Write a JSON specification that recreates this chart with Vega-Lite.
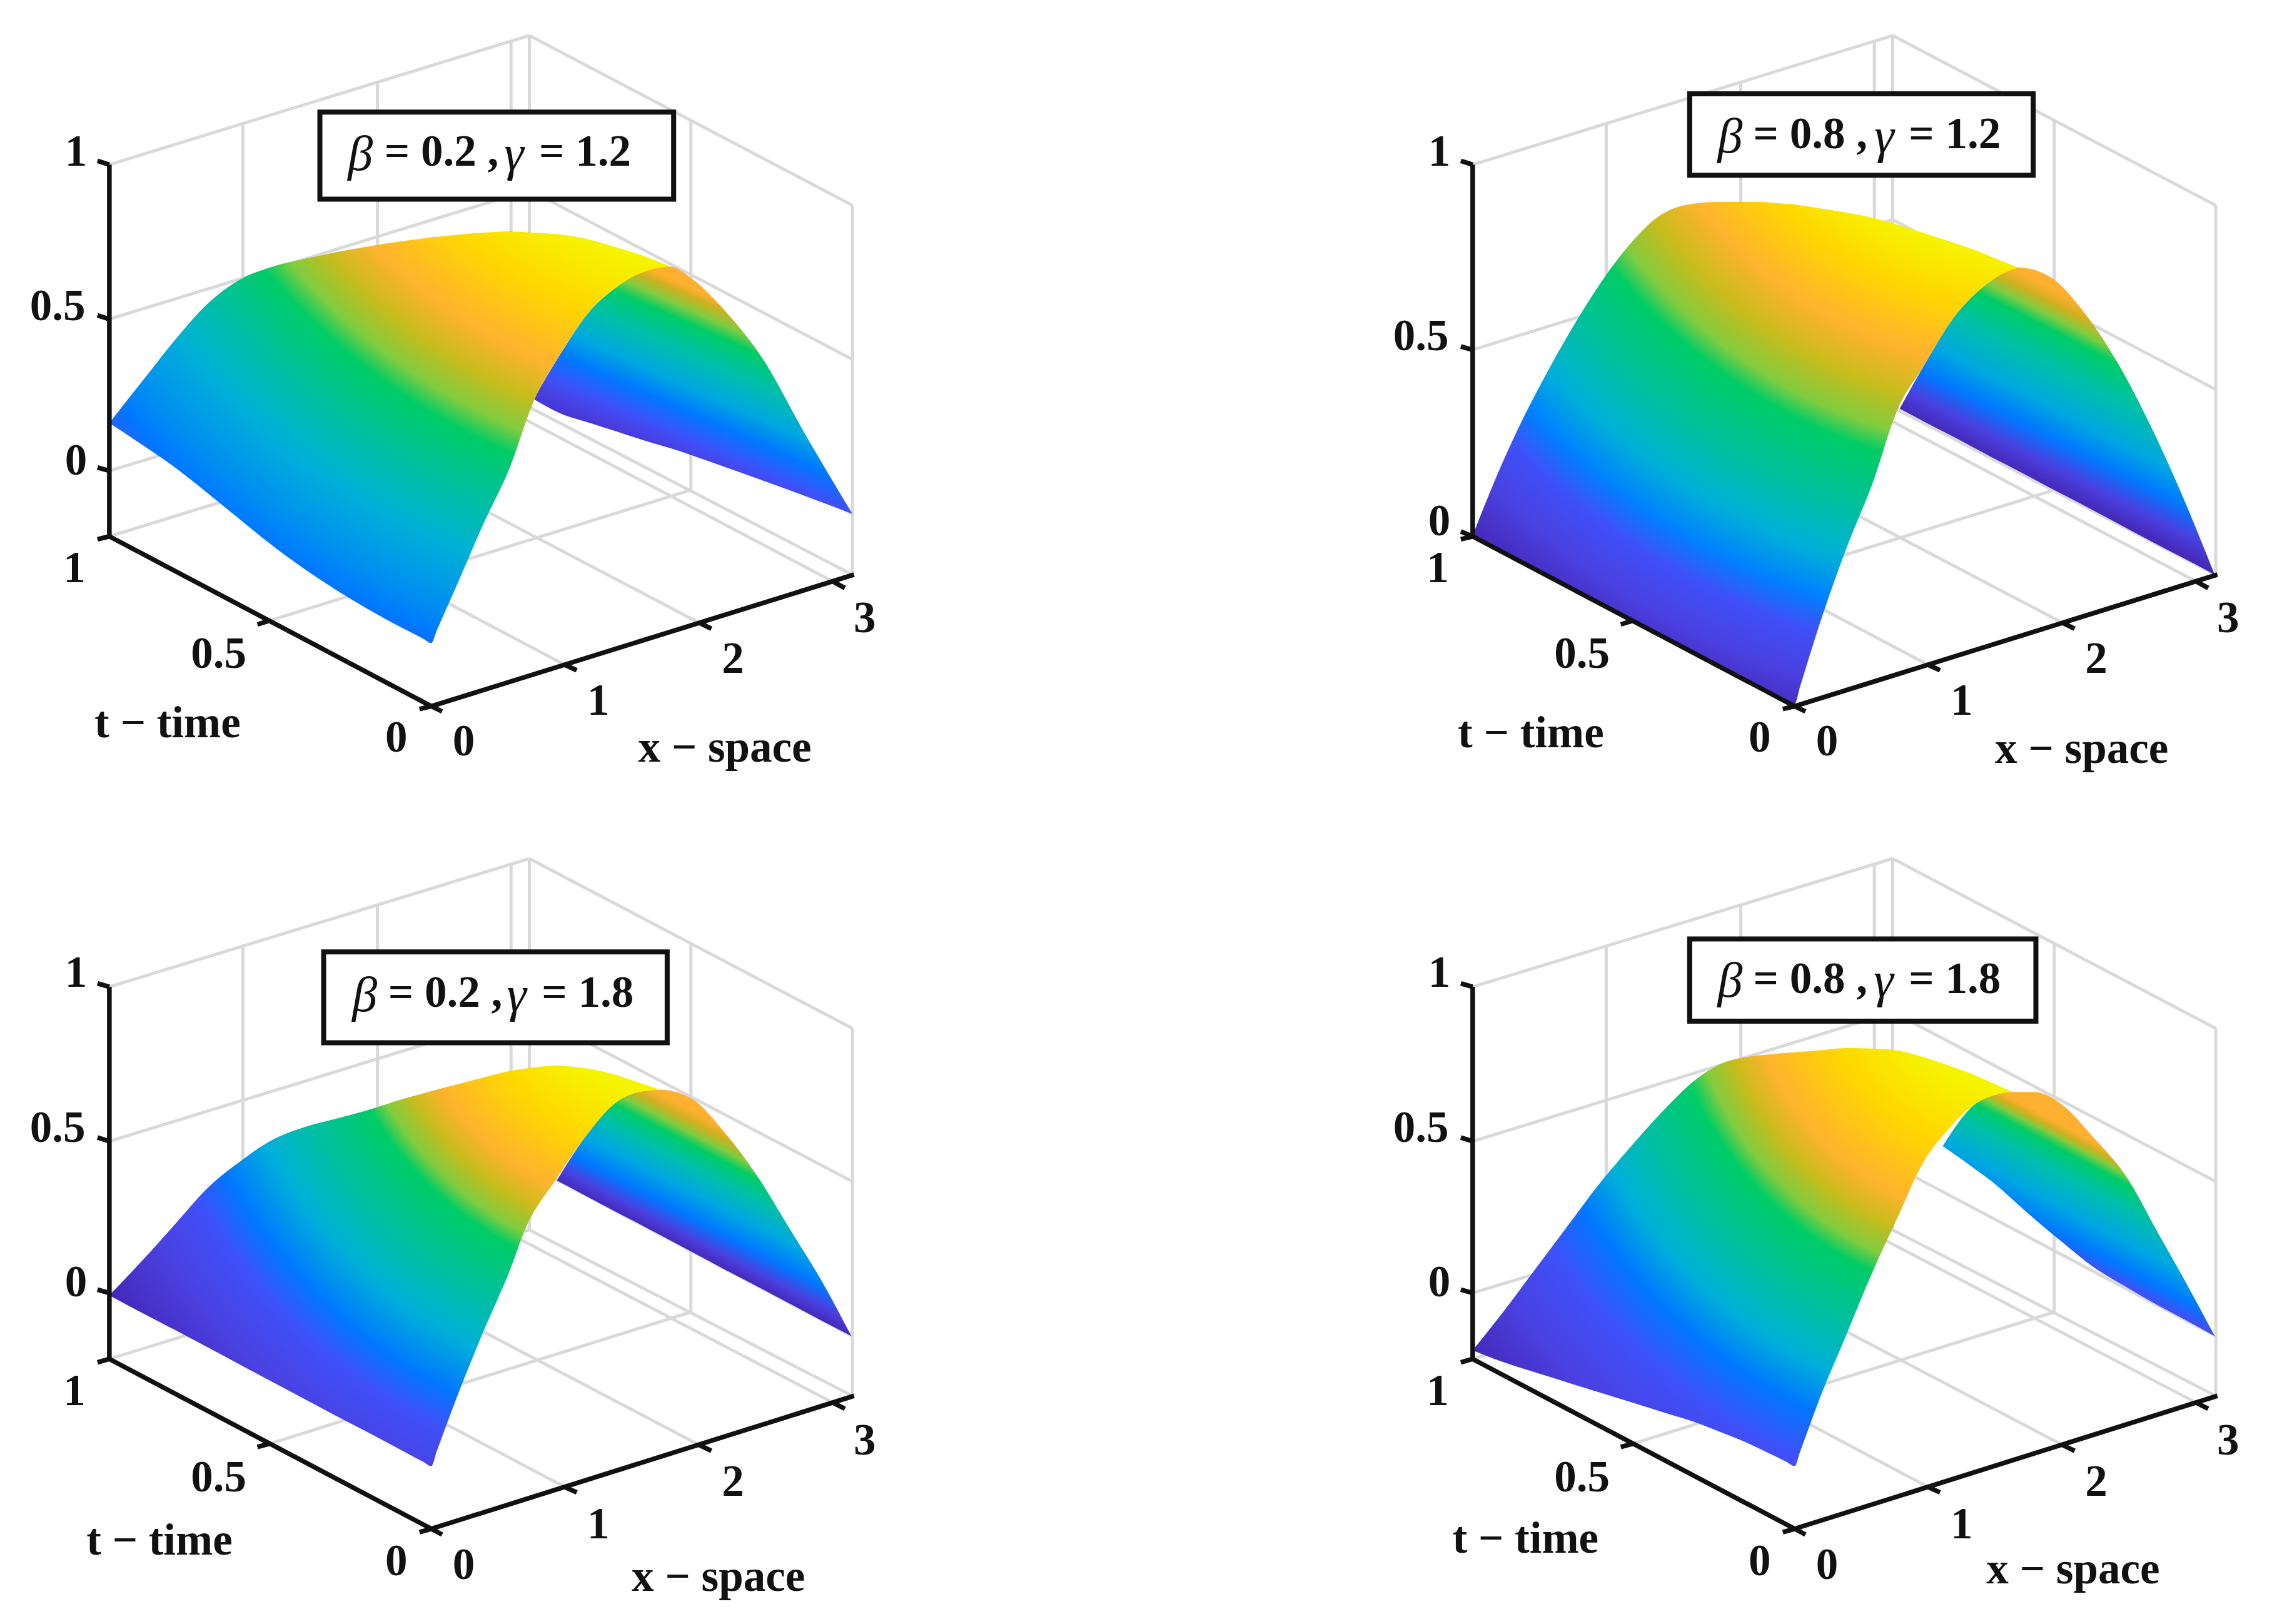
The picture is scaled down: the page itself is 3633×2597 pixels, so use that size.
{"$schema":"https://vega.github.io/schema/vega-lite/v6.json","background":"white","padding":{"left":0,"top":0,"right":3,"bottom":7},"columns":2,"bounds":"flush","spacing":{"row":70,"column":730},"config":{"view":{"stroke":null},"text":{"font":"Liberation Serif","fontWeight":"bold","fontSize":71,"color":"#111","baseline":"middle"}},
"datasets":{
"grid1":[{"x":87,"y":305,"x2":867,"y2":35},{"x":87,"y":628,"x2":867,"y2":358},{"x":87,"y":945,"x2":867,"y2":678},{"x":87,"y":1082,"x2":867,"y2":812},{"x":867,"y":35,"x2":1467,"y2":390},{"x":867,"y":358,"x2":1467,"y2":712},{"x":867,"y":678,"x2":1467,"y2":1035},{"x":867,"y":812,"x2":1467,"y2":1162},{"x":335,"y":218,"x2":335,"y2":995},{"x":585,"y":132,"x2":585,"y2":910},{"x":833,"y":47,"x2":833,"y2":822},{"x":867,"y":35,"x2":867,"y2":812},{"x":1167,"y":213,"x2":1167,"y2":985},{"x":1467,"y":390,"x2":1467,"y2":1162},{"x":932,"y":1350,"x2":335,"y2":995},{"x":1183,"y":1263,"x2":585,"y2":910},{"x":1432,"y":1177,"x2":833,"y2":822},{"x":385,"y":1258,"x2":1167,"y2":985}],
"grid2":[{"x":87,"y":305,"x2":867,"y2":35},{"x":87,"y":692,"x2":867,"y2":420},{"x":87,"y":1082,"x2":867,"y2":812},{"x":867,"y":35,"x2":1467,"y2":390},{"x":867,"y":420,"x2":1467,"y2":775},{"x":867,"y":812,"x2":1467,"y2":1162},{"x":335,"y":218,"x2":335,"y2":995},{"x":585,"y":132,"x2":585,"y2":910},{"x":833,"y":47,"x2":833,"y2":822},{"x":867,"y":35,"x2":867,"y2":812},{"x":1167,"y":213,"x2":1167,"y2":985},{"x":1467,"y":390,"x2":1467,"y2":1162},{"x":932,"y":1350,"x2":335,"y2":995},{"x":1183,"y":1263,"x2":585,"y2":910},{"x":1432,"y":1177,"x2":833,"y2":822},{"x":385,"y":1258,"x2":1167,"y2":985}],
"grid3":[{"x":87,"y":285,"x2":867,"y2":17},{"x":87,"y":608,"x2":867,"y2":338},{"x":87,"y":925,"x2":867,"y2":658},{"x":87,"y":1063,"x2":867,"y2":793},{"x":867,"y":17,"x2":1467,"y2":372},{"x":867,"y":338,"x2":1467,"y2":692},{"x":867,"y":658,"x2":1467,"y2":1015},{"x":867,"y":793,"x2":1467,"y2":1140},{"x":335,"y":200,"x2":335,"y2":975},{"x":585,"y":115,"x2":585,"y2":890},{"x":833,"y":27,"x2":833,"y2":803},{"x":867,"y":17,"x2":867,"y2":793},{"x":1167,"y":195,"x2":1167,"y2":965},{"x":1467,"y":372,"x2":1467,"y2":1140},{"x":932,"y":1330,"x2":335,"y2":975},{"x":1183,"y":1243,"x2":585,"y2":890},{"x":1432,"y":1155,"x2":833,"y2":803},{"x":385,"y":1240,"x2":1167,"y2":965}],
"axes1":[{"x":87,"y":305,"x2":87,"y2":1082},{"x":65,"y":297,"x2":87,"y2":305},{"x":65,"y":620,"x2":87,"y2":628},{"x":65,"y":938,"x2":87,"y2":945},{"x":65,"y":1088,"x2":87,"y2":1082},{"x":87,"y":1082,"x2":685,"y2":1437},{"x":362,"y":1266,"x2":385,"y2":1258},{"x":663,"y":1443,"x2":685,"y2":1437},{"x":685,"y":1437,"x2":1470,"y2":1162},{"x":705,"y":1448,"x2":685,"y2":1437},{"x":955,"y":1362,"x2":932,"y2":1350},{"x":1205,"y":1275,"x2":1183,"y2":1263},{"x":1453,"y":1190,"x2":1432,"y2":1177}],
"axes2":[{"x":87,"y":305,"x2":87,"y2":1082},{"x":65,"y":297,"x2":87,"y2":305},{"x":65,"y":685,"x2":87,"y2":692},{"x":65,"y":1072,"x2":87,"y2":1082},{"x":65,"y":1088,"x2":87,"y2":1082},{"x":87,"y":1082,"x2":685,"y2":1437},{"x":362,"y":1266,"x2":385,"y2":1258},{"x":663,"y":1443,"x2":685,"y2":1437},{"x":685,"y":1437,"x2":1470,"y2":1162},{"x":705,"y":1448,"x2":685,"y2":1437},{"x":955,"y":1362,"x2":932,"y2":1350},{"x":1205,"y":1275,"x2":1183,"y2":1263},{"x":1453,"y":1190,"x2":1432,"y2":1177}],
"axes3":[{"x":87,"y":285,"x2":87,"y2":1063},{"x":65,"y":278,"x2":87,"y2":285},{"x":65,"y":600,"x2":87,"y2":608},{"x":65,"y":918,"x2":87,"y2":925},{"x":65,"y":1070,"x2":87,"y2":1063},{"x":87,"y":1063,"x2":685,"y2":1418},{"x":362,"y":1247,"x2":385,"y2":1240},{"x":663,"y":1425,"x2":685,"y2":1418},{"x":685,"y":1418,"x2":1470,"y2":1140},{"x":705,"y":1430,"x2":685,"y2":1418},{"x":955,"y":1342,"x2":932,"y2":1330},{"x":1205,"y":1255,"x2":1183,"y2":1243},{"x":1453,"y":1167,"x2":1432,"y2":1155}]
},
"concat":[
{"width":1450,"height":1260,"encoding":{"x":{"field":"x","type":"quantitative","scale":{"domain":[-116.1,1568]},"axis":null},"y":{"field":"y","type":"quantitative","scale":{"domain":[1607.8,-39.2]},"axis":null}},"layer":[
{"data":{"name":"grid1"},"mark":{"type":"rule","color":"#d9d9d9","strokeWidth":5},"encoding":{"x2":{"field":"x2"},"y2":{"field":"y2"}}},
{"data":{"values":[{"x":875,"y":795,"y2":795},{"x":925,"y":700,"y2":825},{"x":980,"y":610,"y2":845},{"x":1030,"y":560,"y2":863},{"x":1090,"y":522,"y2":885},{"x":1130,"y":518,"y2":898},{"x":1165,"y":540,"y2":911},{"x":1230,"y":610,"y2":937},{"x":1300,"y":710,"y2":965},{"x":1380,"y":870,"y2":998},{"x":1467,"y":1035,"y2":1035}]},"mark":{"type":"area","interpolate":"monotone","color":{"gradient":"linear","x1":0.2,"y1":0.7,"x2":0.696,"y2":-0.168,"stops":[{"offset":0,"color":"#4030d0"},{"offset":0.08,"color":"#4a3ee0"},{"offset":0.14,"color":"#3f50f8"},{"offset":0.24,"color":"#0078ff"},{"offset":0.33,"color":"#00a8e0"},{"offset":0.45,"color":"#00bfa8"},{"offset":0.55,"color":"#00cc66"},{"offset":0.6,"color":"#80cc40"},{"offset":0.65,"color":"#d0b020"},{"offset":0.68,"color":"#ffb030"},{"offset":1,"color":"#ffb030"}]}},"encoding":{"y2":{"field":"y2"}}},
{"data":{"values":[{"x":87,"y":845,"y2":845},{"x":150,"y":755,"y2":892},{"x":210,"y":670,"y2":939},{"x":270,"y":595,"y2":992},{"x":330,"y":545,"y2":1047},{"x":385,"y":520,"y2":1097},{"x":470,"y":497,"y2":1166},{"x":600,"y":470,"y2":1255},{"x":670,"y":459,"y2":1296},{"x":685,"y":457,"y2":1305},{"x":695,"y":456,"y2":1279},{"x":730,"y":452,"y2":1190},{"x":780,"y":447,"y2":1060},{"x":830,"y":445,"y2":940},{"x":875,"y":447,"y2":800},{"x":925,"y":451,"y2":700},{"x":980,"y":462,"y2":610},{"x":1030,"y":478,"y2":560},{"x":1090,"y":500,"y2":525},{"x":1130,"y":518,"y2":518}]},"mark":{"type":"area","interpolate":"monotone","color":{"gradient":"radial","x1":1.158,"y1":-0.523,"r1":0,"x2":1.158,"y2":-0.523,"r2":1.559,"stops":[{"offset":0.471,"color":"#f5f500"},{"offset":0.543,"color":"#ffd800"},{"offset":0.621,"color":"#ffb32e"},{"offset":0.664,"color":"#c8bc1c"},{"offset":0.704,"color":"#80cc40"},{"offset":0.732,"color":"#00cc66"},{"offset":0.793,"color":"#00bfa0"},{"offset":0.857,"color":"#00b0d8"},{"offset":0.921,"color":"#0090f0"},{"offset":0.957,"color":"#0078ff"},{"offset":1,"color":"#3f50f0"}]}},"encoding":{"y2":{"field":"y2"}}},
{"data":{"name":"axes1"},"mark":{"type":"rule","color":"#111","strokeWidth":7.5},"encoding":{"x2":{"field":"x2"},"y2":{"field":"y2"}}},
{"data":{"values":[{"x":25,"y":280,"text":"1"},{"x":-9,"y":603,"text":"0.5"},{"x":25,"y":925,"text":"0"},{"x":22,"y":1150,"text":"1"},{"x":290,"y":1330,"text":"0.5"},{"x":620,"y":1505,"text":"0"},{"x":745,"y":1512,"text":"0"},{"x":995,"y":1428,"text":"1"},{"x":1245,"y":1340,"text":"2"},{"x":1490,"y":1255,"text":"3"},{"x":195,"y":1475,"text":"t − time"},{"x":1230,"y":1525,"text":"x − space"}]},"mark":{"type":"text"},"encoding":{"text":{"field":"text"}}},
{"data":{"values":[{"x":478,"y":195,"x2":1135,"y2":377}]},"mark":{"type":"rect","fill":"white","stroke":"#111","strokeWidth":8},"encoding":{"x2":{"field":"x2"},"y2":{"field":"y2"}}},
{"data":{"values":[{"x":598,"y":280,"text":"= 0.2 ,"},{"x":885,"y":280,"text":"= 1.2"}]},"mark":{"type":"text","align":"left"},"encoding":{"text":{"field":"text"}}},
{"data":{"values":[{"x":530,"y":285,"text":"β"},{"x":820,"y":285,"text":"γ"}]},"mark":{"type":"text","align":"left","fontStyle":"italic","fontWeight":"normal","fontSize":80},"encoding":{"text":{"field":"text"}}}
]},
{"width":1450,"height":1260,"encoding":{"x":{"field":"x","type":"quantitative","scale":{"domain":[-116.1,1568]},"axis":null},"y":{"field":"y","type":"quantitative","scale":{"domain":[1607.8,-39.2]},"axis":null}},"layer":[
{"data":{"name":"grid2"},"mark":{"type":"rule","color":"#d9d9d9","strokeWidth":5},"encoding":{"x2":{"field":"x2"},"y2":{"field":"y2"}}},
{"data":{"values":[{"x":880,"y":815,"y2":815},{"x":925,"y":725,"y2":842},{"x":980,"y":625,"y2":874},{"x":1030,"y":565,"y2":904},{"x":1060,"y":540,"y2":922},{"x":1100,"y":520,"y2":945},{"x":1160,"y":540,"y2":981},{"x":1220,"y":610,"y2":1016},{"x":1280,"y":710,"y2":1052},{"x":1350,"y":860,"y2":1094},{"x":1410,"y":1010,"y2":1129},{"x":1465,"y":1162,"y2":1162}]},"mark":{"type":"area","interpolate":"monotone","color":{"gradient":"linear","x1":0.2,"y1":0.7,"x2":0.667,"y2":-0.184,"stops":[{"offset":0.115,"color":"#4528b8"},{"offset":0.18,"color":"#4a40e0"},{"offset":0.26,"color":"#0078ff"},{"offset":0.35,"color":"#00a8e0"},{"offset":0.47,"color":"#00bfa8"},{"offset":0.57,"color":"#00cc66"},{"offset":0.61,"color":"#80cc40"},{"offset":0.65,"color":"#d0b020"},{"offset":0.69,"color":"#ffb030"},{"offset":1,"color":"#ffb030"}]}},"encoding":{"y2":{"field":"y2"}}},
{"data":{"values":[{"x":87,"y":1080,"y2":1080},{"x":130,"y":960,"y2":1105},{"x":170,"y":860,"y2":1129},{"x":220,"y":750,"y2":1158},{"x":270,"y":650,"y2":1188},{"x":320,"y":560,"y2":1217},{"x":380,"y":470,"y2":1253},{"x":430,"y":415,"y2":1282},{"x":480,"y":390,"y2":1311},{"x":540,"y":383,"y2":1347},{"x":620,"y":383,"y2":1394},{"x":670,"y":387,"y2":1423},{"x":685,"y":388,"y2":1432},{"x":695,"y":390,"y2":1396},{"x":730,"y":396,"y2":1270},{"x":780,"y":405,"y2":1110},{"x":830,"y":416,"y2":970},{"x":875,"y":430,"y2":820},{"x":925,"y":448,"y2":725},{"x":980,"y":468,"y2":625},{"x":1030,"y":488,"y2":565},{"x":1060,"y":502,"y2":540},{"x":1100,"y":520,"y2":520}]},"mark":{"type":"area","interpolate":"monotone","color":{"gradient":"radial","x1":1.034,"y1":-0.447,"r1":0,"x2":1.034,"y2":-0.447,"r2":1.514,"stops":[{"offset":0.384,"color":"#f5f500"},{"offset":0.447,"color":"#ffd800"},{"offset":0.523,"color":"#ffb32e"},{"offset":0.576,"color":"#c8bc1c"},{"offset":0.624,"color":"#80cc40"},{"offset":0.652,"color":"#00cc66"},{"offset":0.727,"color":"#00bfa0"},{"offset":0.788,"color":"#00b0d8"},{"offset":0.841,"color":"#0080ff"},{"offset":0.883,"color":"#3f50f8"},{"offset":0.939,"color":"#4a40e0"},{"offset":0.996,"color":"#4528b8"}]}},"encoding":{"y2":{"field":"y2"}}},
{"data":{"name":"axes2"},"mark":{"type":"rule","color":"#111","strokeWidth":7.5},"encoding":{"x2":{"field":"x2"},"y2":{"field":"y2"}}},
{"data":{"values":[{"x":25,"y":280,"text":"1"},{"x":-9,"y":665,"text":"0.5"},{"x":25,"y":1052,"text":"0"},{"x":22,"y":1150,"text":"1"},{"x":290,"y":1330,"text":"0.5"},{"x":620,"y":1505,"text":"0"},{"x":745,"y":1512,"text":"0"},{"x":995,"y":1428,"text":"1"},{"x":1245,"y":1340,"text":"2"},{"x":1490,"y":1255,"text":"3"},{"x":195,"y":1495,"text":"t − time"},{"x":1218,"y":1528,"text":"x − space"}]},"mark":{"type":"text"},"encoding":{"text":{"field":"text"}}},
{"data":{"values":[{"x":490,"y":157,"x2":1128,"y2":327}]},"mark":{"type":"rect","fill":"white","stroke":"#111","strokeWidth":8},"encoding":{"x2":{"field":"x2"},"y2":{"field":"y2"}}},
{"data":{"values":[{"x":608,"y":243,"text":"= 0.8 ,"},{"x":897,"y":243,"text":"= 1.2"}]},"mark":{"type":"text","align":"left"},"encoding":{"text":{"field":"text"}}},
{"data":{"values":[{"x":542,"y":248,"text":"β"},{"x":833,"y":248,"text":"γ"}]},"mark":{"type":"text","align":"left","fontStyle":"italic","fontWeight":"normal","fontSize":80},"encoding":{"text":{"field":"text"}}}
]},
{"width":1450,"height":1260,"encoding":{"x":{"field":"x","type":"quantitative","scale":{"domain":[-116.1,1568]},"axis":null},"y":{"field":"y","type":"quantitative","scale":{"domain":[1607.8,-39.2]},"axis":null}},"layer":[
{"data":{"name":"grid3"},"mark":{"type":"rule","color":"#d9d9d9","strokeWidth":5},"encoding":{"x2":{"field":"x2"},"y2":{"field":"y2"}}},
{"data":{"values":[{"x":918,"y":690,"y2":690},{"x":970,"y":600,"y2":721},{"x":1030,"y":525,"y2":757},{"x":1070,"y":505,"y2":780},{"x":1110,"y":500,"y2":804},{"x":1170,"y":520,"y2":840},{"x":1230,"y":590,"y2":876},{"x":1290,"y":680,"y2":911},{"x":1350,"y":790,"y2":947},{"x":1410,"y":900,"y2":983},{"x":1465,"y":1015,"y2":1015}]},"mark":{"type":"area","interpolate":"monotone","color":{"gradient":"linear","x1":0.2,"y1":0.7,"x2":0.732,"y2":-0.147,"stops":[{"offset":0.17,"color":"#4528b8"},{"offset":0.22,"color":"#4a40e0"},{"offset":0.29,"color":"#0078ff"},{"offset":0.38,"color":"#00a8e0"},{"offset":0.47,"color":"#00bfa8"},{"offset":0.54,"color":"#00cc66"},{"offset":0.58,"color":"#80cc40"},{"offset":0.62,"color":"#d0b020"},{"offset":0.66,"color":"#ffb030"},{"offset":1,"color":"#ffb030"}]}},"encoding":{"y2":{"field":"y2"}}},
{"data":{"values":[{"x":87,"y":930,"y2":930},{"x":150,"y":855,"y2":968},{"x":210,"y":780,"y2":1003},{"x":270,"y":705,"y2":1039},{"x":330,"y":650,"y2":1075},{"x":390,"y":605,"y2":1111},{"x":450,"y":578,"y2":1147},{"x":500,"y":563,"y2":1177},{"x":560,"y":545,"y2":1212},{"x":640,"y":517,"y2":1260},{"x":670,"y":508,"y2":1278},{"x":685,"y":503,"y2":1287},{"x":695,"y":500,"y2":1256},{"x":730,"y":490,"y2":1150},{"x":780,"y":475,"y2":1010},{"x":830,"y":461,"y2":880},{"x":860,"y":456,"y2":790},{"x":915,"y":450,"y2":690},{"x":970,"y":455,"y2":600},{"x":1030,"y":470,"y2":525},{"x":1070,"y":485,"y2":505},{"x":1110,"y":500,"y2":500}]},"mark":{"type":"area","interpolate":"monotone","color":{"gradient":"radial","x1":1.032,"y1":-0.109,"r1":0,"x2":1.032,"y2":-0.109,"r2":1.226,"stops":[{"offset":0.244,"color":"#f5f500"},{"offset":0.333,"color":"#ffd800"},{"offset":0.421,"color":"#ffb32e"},{"offset":0.463,"color":"#c8bc1c"},{"offset":0.502,"color":"#80cc40"},{"offset":0.528,"color":"#00cc66"},{"offset":0.611,"color":"#00bfa0"},{"offset":0.685,"color":"#00b0d8"},{"offset":0.759,"color":"#0078ff"},{"offset":0.815,"color":"#3f50f8"},{"offset":0.898,"color":"#4a40e0"},{"offset":1,"color":"#4528b8"}]}},"encoding":{"y2":{"field":"y2"}}},
{"data":{"name":"axes3"},"mark":{"type":"rule","color":"#111","strokeWidth":7.5},"encoding":{"x2":{"field":"x2"},"y2":{"field":"y2"}}},
{"data":{"values":[{"x":25,"y":258,"text":"1"},{"x":-9,"y":582,"text":"0.5"},{"x":25,"y":905,"text":"0"},{"x":22,"y":1132,"text":"1"},{"x":290,"y":1312,"text":"0.5"},{"x":620,"y":1487,"text":"0"},{"x":745,"y":1495,"text":"0"},{"x":995,"y":1410,"text":"1"},{"x":1245,"y":1322,"text":"2"},{"x":1490,"y":1235,"text":"3"},{"x":180,"y":1445,"text":"t − time"},{"x":1218,"y":1520,"text":"x − space"}]},"mark":{"type":"text"},"encoding":{"text":{"field":"text"}}},
{"data":{"values":[{"x":485,"y":212,"x2":1123,"y2":402}]},"mark":{"type":"rect","fill":"white","stroke":"#111","strokeWidth":8},"encoding":{"x2":{"field":"x2"},"y2":{"field":"y2"}}},
{"data":{"values":[{"x":605,"y":300,"text":"= 0.2 ,"},{"x":890,"y":300,"text":"= 1.8"}]},"mark":{"type":"text","align":"left"},"encoding":{"text":{"field":"text"}}},
{"data":{"values":[{"x":538,"y":305,"text":"β"},{"x":825,"y":305,"text":"γ"}]},"mark":{"type":"text","align":"left","fontStyle":"italic","fontWeight":"normal","fontSize":80},"encoding":{"text":{"field":"text"}}}
]},
{"width":1450,"height":1260,"encoding":{"x":{"field":"x","type":"quantitative","scale":{"domain":[-116.1,1568]},"axis":null},"y":{"field":"y","type":"quantitative","scale":{"domain":[1607.8,-39.2]},"axis":null}},"layer":[
{"data":{"name":"grid3"},"mark":{"type":"rule","color":"#d9d9d9","strokeWidth":5},"encoding":{"x2":{"field":"x2"},"y2":{"field":"y2"}}},
{"data":{"values":[{"x":960,"y":618,"y2":618},{"x":1020,"y":530,"y2":666},{"x":1060,"y":510,"y2":700},{"x":1090,"y":505,"y2":730},{"x":1130,"y":505,"y2":770},{"x":1180,"y":530,"y2":817},{"x":1240,"y":600,"y2":871},{"x":1300,"y":680,"y2":912},{"x":1360,"y":800,"y2":951},{"x":1410,"y":900,"y2":981},{"x":1465,"y":1015,"y2":1015}]},"mark":{"type":"area","interpolate":"monotone","color":{"gradient":"linear","x1":0.2,"y1":0.7,"x2":0.712,"y2":-0.159,"stops":[{"offset":0.1,"color":"#4a40e0"},{"offset":0.16,"color":"#3f50f8"},{"offset":0.22,"color":"#0078ff"},{"offset":0.32,"color":"#00a8e0"},{"offset":0.44,"color":"#00bfa8"},{"offset":0.52,"color":"#00cc66"},{"offset":0.555,"color":"#80cc40"},{"offset":0.58,"color":"#d0b020"},{"offset":0.61,"color":"#ffb030"},{"offset":1,"color":"#ffb030"}]}},"encoding":{"y2":{"field":"y2"}}},
{"data":{"values":[{"x":87,"y":1045,"y2":1045},{"x":140,"y":970,"y2":1068},{"x":200,"y":880,"y2":1090},{"x":260,"y":790,"y2":1111},{"x":320,"y":700,"y2":1132},{"x":380,"y":620,"y2":1153},{"x":440,"y":545,"y2":1174},{"x":500,"y":480,"y2":1195},{"x":550,"y":445,"y2":1217},{"x":590,"y":433,"y2":1235},{"x":650,"y":425,"y2":1267},{"x":670,"y":423,"y2":1278},{"x":685,"y":422,"y2":1287},{"x":695,"y":421,"y2":1257},{"x":730,"y":418,"y2":1150},{"x":780,"y":413,"y2":1015},{"x":830,"y":414,"y2":880},{"x":875,"y":418,"y2":770},{"x":925,"y":432,"y2":650},{"x":965,"y":447,"y2":590},{"x":1020,"y":470,"y2":530},{"x":1060,"y":490,"y2":510},{"x":1090,"y":505,"y2":505}]},"mark":{"type":"area","interpolate":"monotone","color":{"gradient":"radial","x1":1.02,"y1":-0.082,"r1":0,"x2":1.02,"y2":-0.082,"r2":1.273,"stops":[{"offset":0.215,"color":"#f5f500"},{"offset":0.309,"color":"#ffd800"},{"offset":0.409,"color":"#ffb32e"},{"offset":0.455,"color":"#c8bc1c"},{"offset":0.498,"color":"#80cc40"},{"offset":0.527,"color":"#00cc66"},{"offset":0.609,"color":"#00bfa0"},{"offset":0.682,"color":"#00b0d8"},{"offset":0.745,"color":"#0078ff"},{"offset":0.818,"color":"#3f50f8"},{"offset":0.909,"color":"#4a40e0"},{"offset":1,"color":"#4528b8"}]}},"encoding":{"y2":{"field":"y2"}}},
{"data":{"name":"axes3"},"mark":{"type":"rule","color":"#111","strokeWidth":7.5},"encoding":{"x2":{"field":"x2"},"y2":{"field":"y2"}}},
{"data":{"values":[{"x":25,"y":258,"text":"1"},{"x":-9,"y":582,"text":"0.5"},{"x":25,"y":905,"text":"0"},{"x":22,"y":1132,"text":"1"},{"x":290,"y":1312,"text":"0.5"},{"x":620,"y":1487,"text":"0"},{"x":745,"y":1495,"text":"0"},{"x":995,"y":1410,"text":"1"},{"x":1245,"y":1322,"text":"2"},{"x":1490,"y":1235,"text":"3"},{"x":185,"y":1440,"text":"t − time"},{"x":1202,"y":1505,"text":"x − space"}]},"mark":{"type":"text"},"encoding":{"text":{"field":"text"}}},
{"data":{"values":[{"x":490,"y":185,"x2":1133,"y2":357}]},"mark":{"type":"rect","fill":"white","stroke":"#111","strokeWidth":8},"encoding":{"x2":{"field":"x2"},"y2":{"field":"y2"}}},
{"data":{"values":[{"x":608,"y":270,"text":"= 0.8 ,"},{"x":897,"y":270,"text":"= 1.8"}]},"mark":{"type":"text","align":"left"},"encoding":{"text":{"field":"text"}}},
{"data":{"values":[{"x":542,"y":275,"text":"β"},{"x":832,"y":275,"text":"γ"}]},"mark":{"type":"text","align":"left","fontStyle":"italic","fontWeight":"normal","fontSize":80},"encoding":{"text":{"field":"text"}}}
]}
]}
